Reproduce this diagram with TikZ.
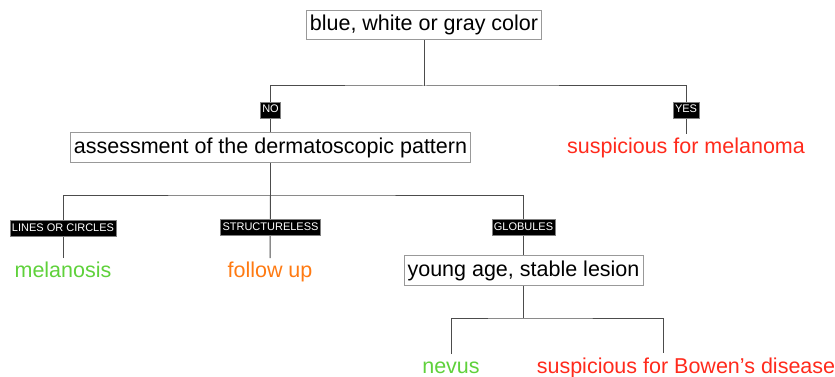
\documentclass[tikz,border=0pt]{standalone}
\usepackage{fontspec}
\setmainfont{Liberation Sans}
\definecolor{cRed}{HTML}{FF2A1C}
\definecolor{cGreen}{HTML}{5FD13B}
\definecolor{cOrange}{HTML}{FF7A12}
\begin{document}
\begin{tikzpicture}[x=1pt,y=-1pt,
  box/.style={draw=black!40, line width=0.8pt, fill=white, font=\fontsize{21.5}{24}\selectfont, text height=15.5pt, text depth=4pt, inner xsep=3.5pt, inner ysep=5pt},
  leaf/.style={font=\fontsize{21.5}{24}\selectfont, text height=15.5pt, text depth=4pt, inner sep=4pt},
  tag/.style={fill=black, draw=black!50, line width=0.6pt, text=white, font=\fontsize{11}{12}\selectfont, text height=8pt, text depth=2pt, inner xsep=2pt, inner ysep=3pt},
  conn/.style={draw=black!70, line width=1pt}]
\useasboundingbox (0,0) rectangle (835,377);
\node[box] (top) at (424,25) {blue, white or gray color};
\node[box] (assess) at (270.5,147.5) {assessment of the dermatoscopic pattern};
\node[leaf, text=cRed] (mel) at (686,148) {suspicious for melanoma};
\node[leaf, text=cGreen] (melan) at (63,272) {melanosis};
\node[leaf, text=cOrange] (fu) at (270,272) {follow up};
\node[box] (young) at (523.5,270.5) {young age, stable lesion};
\node[leaf, text=cGreen] (nevus) at (451,368) {nevus};
\node[leaf, text=cRed] (bowen) at (686,368) {suspicious for Bowen’s disease};
\coordinate (j1) at (424,86);
\coordinate (j2) at (270.5,195);
\coordinate (j3) at (523.5,318);
\coordinate (bw) at (663,353);
\draw[conn] (top.south) -- (j1);
\draw[conn] (assess.north) |- (j1) -| (mel.north);
\draw[conn] (assess.south) -- (j2);
\draw[conn] (melan.north) |- (j2) -| (young.north);
\draw[conn] (j2) -- (fu.north);
\draw[conn] (young.south) -- (j3);
\draw[conn] (nevus.north) |- (j3) -| (bw);
\node[tag] (no) at (270.5,110) {NO};
\node[tag] (yes) at (686,110) {YES};
\node[tag] (lc) at (63,228) {LINES OR CIRCLES};
\node[tag] (sl) at (270.5,227) {STRUCTURELESS};
\node[tag] (gl) at (523.5,227) {GLOBULES};
\end{tikzpicture}
\end{document}
